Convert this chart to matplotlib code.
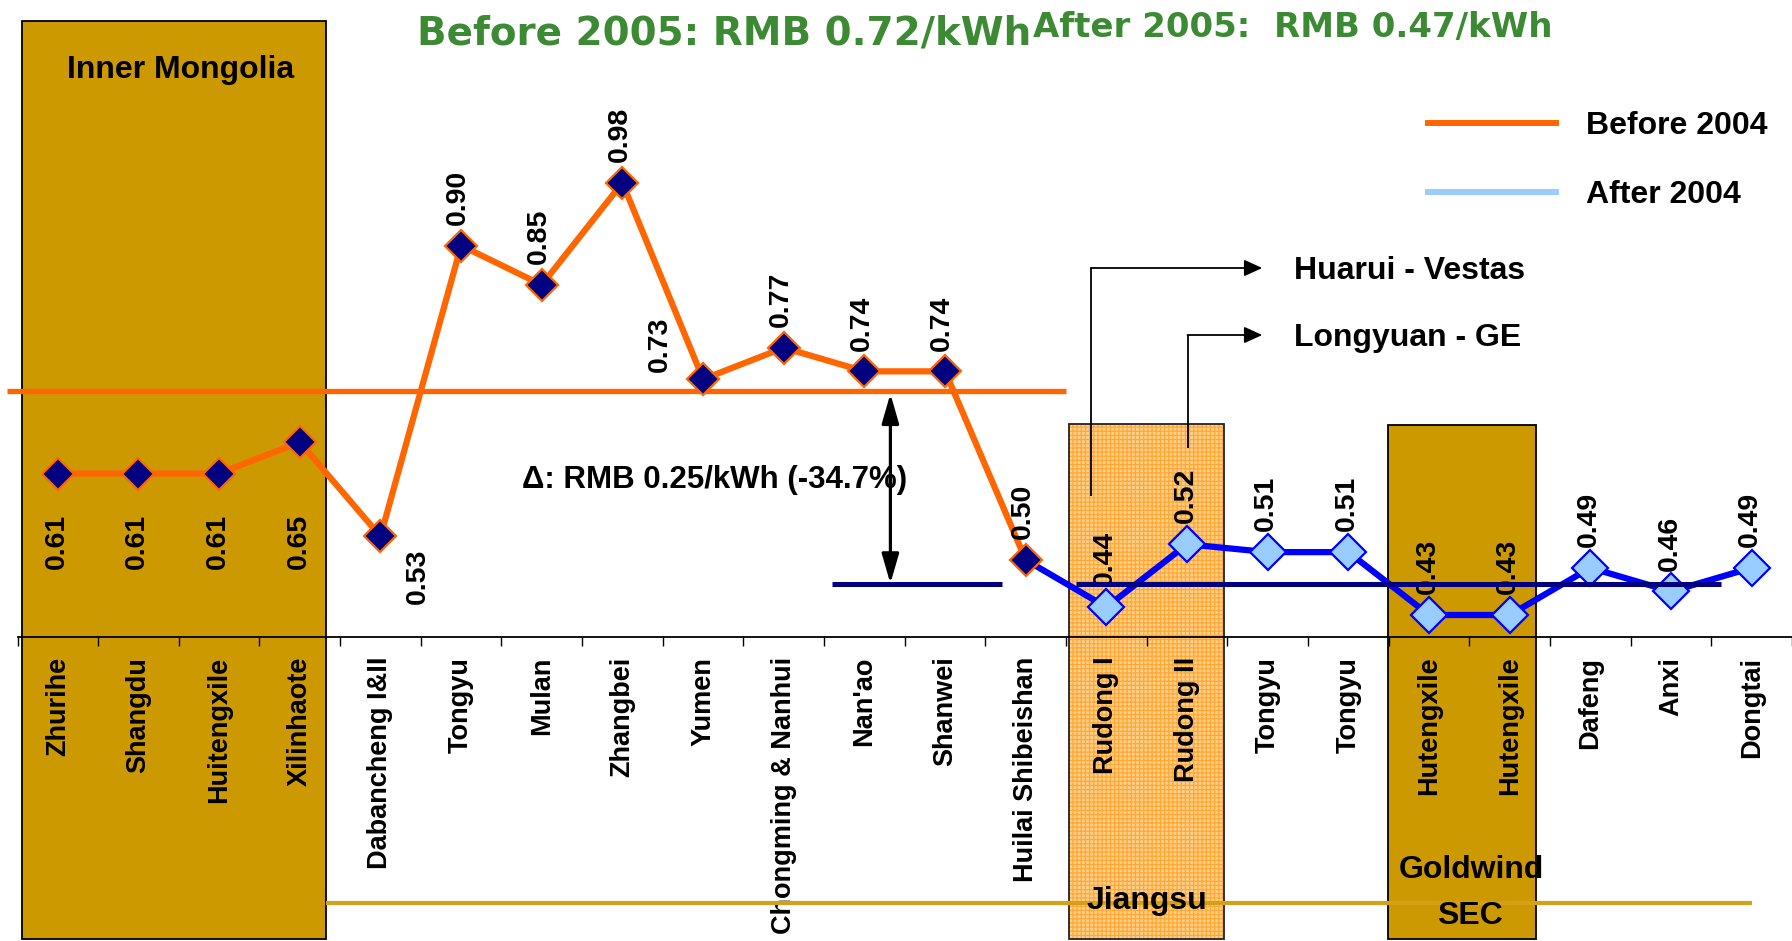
import matplotlib
matplotlib.use("Agg")
import matplotlib.pyplot as plt
from matplotlib.patches import Rectangle
from matplotlib.lines import Line2D

# ---------------- data ----------------
categories = ["Zhurihe", "Shangdu", "Huitengxile", "Xilinhaote", "Dabancheng I&II",
              "Tongyu", "Mulan", "Zhangbei", "Yumen", "Chongming & Nanhui", "Nan'ao",
              "Shanwei", "Huilai Shibeishan", "Rudong I", "Rudong II", "Tongyu", "Tongyu",
              "Hutengxile", "Hutengxile", "Dafeng", "Anxi", "Dongtai"]
before_values = [0.61, 0.61, 0.61, 0.65, 0.53, 0.90, 0.85, 0.98, 0.73, 0.77, 0.74, 0.74, 0.50]
after_values = [0.44, 0.52, 0.51, 0.51, 0.43, 0.43, 0.49, 0.46, 0.49]
before_avg = 0.715
after_avg = 0.47
title_before = "Before 2005: RMB 0.72/kWh"
title_after = "After 2005:  RMB 0.47/kWh"
delta_text = "\u0394: RMB 0.25/kWh (-34.7%)"
legend_labels = ["Before 2004", "After 2004"]

# ---------------- layout helpers ----------------
W, H = 1792, 941
PX_PER_UNIT = 786.0
Y_REF_PX, Y_REF_V = 182.7, 0.98
X0_PX, CAT_PX = 17.5, 80.9
BASE_PX = 636.5


def vy(py):
    return Y_REF_V - (py - Y_REF_PX) / PX_PER_UNIT


def cx(px):
    return (px - X0_PX) / CAT_PX - 0.5


ORANGE = "#FF6600"
NAVY = "#000080"
BLUE = "#0000FF"
LIGHTBLUE = "#99CCFF"
GOLD = "#CC9900"
GREEN = "#3C8A33"
FONT = "Liberation Sans"

plt.rcParams["font.family"] = [FONT, "DejaVu Sans"]
plt.rcParams["hatch.linewidth"] = 0.9

fig = plt.figure(figsize=(W / 100, H / 100), dpi=100)
ax = fig.add_axes([X0_PX / W, (H - BASE_PX) / H, (W - X0_PX) / W, BASE_PX / H])
ax.set_xlim(-0.5, cx(W))
ax.set_ylim(vy(BASE_PX), vy(0))
for s in ("left", "right", "top"):
    ax.spines[s].set_visible(False)
ax.spines["bottom"].set_linewidth(1.3)
ax.spines["bottom"].set_zorder(5)
ax.set_yticks([])

n = len(categories)
ax.set_xticks(range(n))
ax.set_xticklabels(categories, rotation=90, fontsize=19.5, fontweight="bold",
                   va="top", ha="center")
ax.set_xticks([i - 0.5 for i in range(n + 1)], minor=True)
ax.tick_params(axis="x", which="major", length=0, pad=14.5)
ax.tick_params(axis="x", which="minor", length=6.5, width=1.0, direction="out")

# ---------------- shaded regions ----------------
ybot = vy(939)
im_top = vy(21)
ax.add_patch(Rectangle((cx(22), ybot), cx(327) - cx(22), im_top - ybot,
                       facecolor=GOLD, edgecolor="black", lw=1.3, zorder=1, clip_on=False))
js_top = vy(424)
ax.add_patch(Rectangle((cx(1072), ybot), cx(1228) - cx(1072), js_top - ybot,
                       facecolor="#FFD08A", edgecolor="#FFA838", hatch="++++", lw=0,
                       zorder=1, clip_on=False))
ax.add_patch(Rectangle((cx(1072), ybot), cx(1228) - cx(1072), js_top - ybot,
                       fill=False, edgecolor="#222222", lw=1.3, zorder=1.1, clip_on=False))
gw_top = vy(424.5)
ax.add_patch(Rectangle((cx(1392), ybot), cx(1541) - cx(1392), gw_top - ybot,
                       facecolor=GOLD, edgecolor="black", lw=1.3, zorder=1, clip_on=False))

# gold bottom line
ax.plot([cx(327), n - 1], [vy(903)] * 2, color="#D4A017", lw=3.0, zorder=2,
        clip_on=False, solid_capstyle="butt")

ax.text(cx(181), vy(78), "Inner Mongolia", fontsize=23, fontweight="bold",
        ha="center", va="baseline", zorder=3)
ax.text(cx(1150), vy(909), "Jiangsu", fontsize=23, fontweight="bold",
        ha="center", va="baseline", zorder=3, clip_on=False)
ax.text(cx(1476), vy(878), "Goldwind", fontsize=23, fontweight="bold",
        ha="center", va="baseline", zorder=3, clip_on=False)
ax.text(cx(1474), vy(924), "SEC", fontsize=23, fontweight="bold",
        ha="center", va="baseline", zorder=3, clip_on=False)

# ---------------- average lines ----------------
ax.plot([cx(6.7), 12.5], [before_avg] * 2, color=ORANGE, lw=3.8, zorder=2,
        clip_on=False, solid_capstyle="butt")
ax.plot([cx(834), cx(1004.5)], [after_avg] * 2, color=NAVY, lw=3.6, zorder=7,
        solid_capstyle="butt")
ax.plot([cx(1079), cx(1726)], [after_avg] * 2, color=NAVY, lw=3.6, zorder=7,
        solid_capstyle="butt")

# ---------------- series ----------------
bx = list(range(len(before_values)))
ax_idx = list(range(len(before_values), len(before_values) + len(after_values)))
ax.plot([bx[-1]] + ax_idx, [before_values[-1]] + after_values, color=BLUE, lw=4.5,
        marker="D", ms=18, mfc=LIGHTBLUE, mec=BLUE, mew=1.6,
        markevery=list(range(1, len(after_values) + 1)), zorder=4,
        solid_joinstyle="miter")
ax.plot(bx, before_values, color=ORANGE, lw=4.5, marker="D", ms=16.5, mfc=NAVY,
        mec=ORANGE, mew=1.6, zorder=5, solid_joinstyle="miter")

# ---------------- value labels ----------------
lab_kw = dict(rotation=90, fontsize=20.5, fontweight="bold", textcoords="offset points",
              zorder=6, annotation_clip=False)
for i, val in enumerate(before_values):
    t = f"{val:.2f}"
    if i < 4:
        ax.annotate(t, xy=(i, vy(514)), xytext=(-1, 0), ha="center", va="top", **lab_kw)
    elif i == 4:
        ax.annotate(t, xy=(i, val), xytext=(27, -9), ha="center", va="top", **lab_kw)
    elif i == 8:
        ax.annotate(t, xy=(i, val), xytext=(-31, 5), ha="center", va="bottom", **lab_kw)
    else:
        ax.annotate(t, xy=(i, val), xytext=(-2, 15), ha="center", va="bottom", **lab_kw)
for i, val in zip(ax_idx, after_values):
    ax.annotate(f"{val:.2f}", xy=(i, val), xytext=(-1, 15), ha="center", va="bottom",
                **lab_kw)

# ---------------- delta arrow ----------------
ax.annotate("", xy=(cx(893), after_avg), xytext=(cx(893), before_avg),
            arrowprops=dict(arrowstyle="<|-|>,head_length=0.45,head_width=0.13",
                            mutation_scale=40, lw=2.3, color="black",
                            shrinkA=2, shrinkB=0), zorder=8)
ax.text(cx(717), vy(480), delta_text, fontsize=22.5, fontweight="bold",
        ha="center", va="center", zorder=3)

# ---------------- manufacturer call-outs ----------------
for xpx, ytop, ybottom, label in [(1094, 268, 496, "Huarui - Vestas"),
                                  (1191, 335, 448, "Longyuan - GE")]:
    ax.plot([cx(xpx)] * 2, [vy(ybottom), vy(ytop)], color="black", lw=1.3, zorder=6,
            solid_capstyle="butt")
    ax.annotate("", xy=(cx(1266), vy(ytop)), xytext=(cx(xpx), vy(ytop)),
                arrowprops=dict(arrowstyle="-|>,head_length=0.55,head_width=0.25",
                                mutation_scale=20, lw=1.3, color="black",
                                shrinkA=0, shrinkB=0), zorder=6)
    ax.text(cx(1298), vy(ytop + 3), label, fontsize=23, fontweight="bold",
            ha="left", va="center", zorder=6)

# ---------------- legend ----------------
handles = [Line2D([], [], color=ORANGE, lw=4.3), Line2D([], [], color=LIGHTBLUE, lw=4.3)]
fig.legend(handles, legend_labels, loc="upper left",
           bbox_to_anchor=(1428 / W, 1 - 111 / H), frameon=False, borderpad=0,
           borderaxespad=0, handlelength=4.0, handletextpad=0.94, labelspacing=1.22,
           prop=dict(family=FONT, weight="bold", size=23))

# ---------------- titles ----------------
fig.text(417 / W, 1 - 45 / H, title_before, fontsize=28, fontweight="bold",
         family="DejaVu Sans", color=GREEN, ha="left", va="baseline")
fig.text(1033 / W, 1 - 37 / H, title_after, fontsize=24.5, fontweight="bold",
         family="DejaVu Sans", color=GREEN, ha="left", va="baseline")

fig.savefig("out.png", dpi=100, facecolor="white")
